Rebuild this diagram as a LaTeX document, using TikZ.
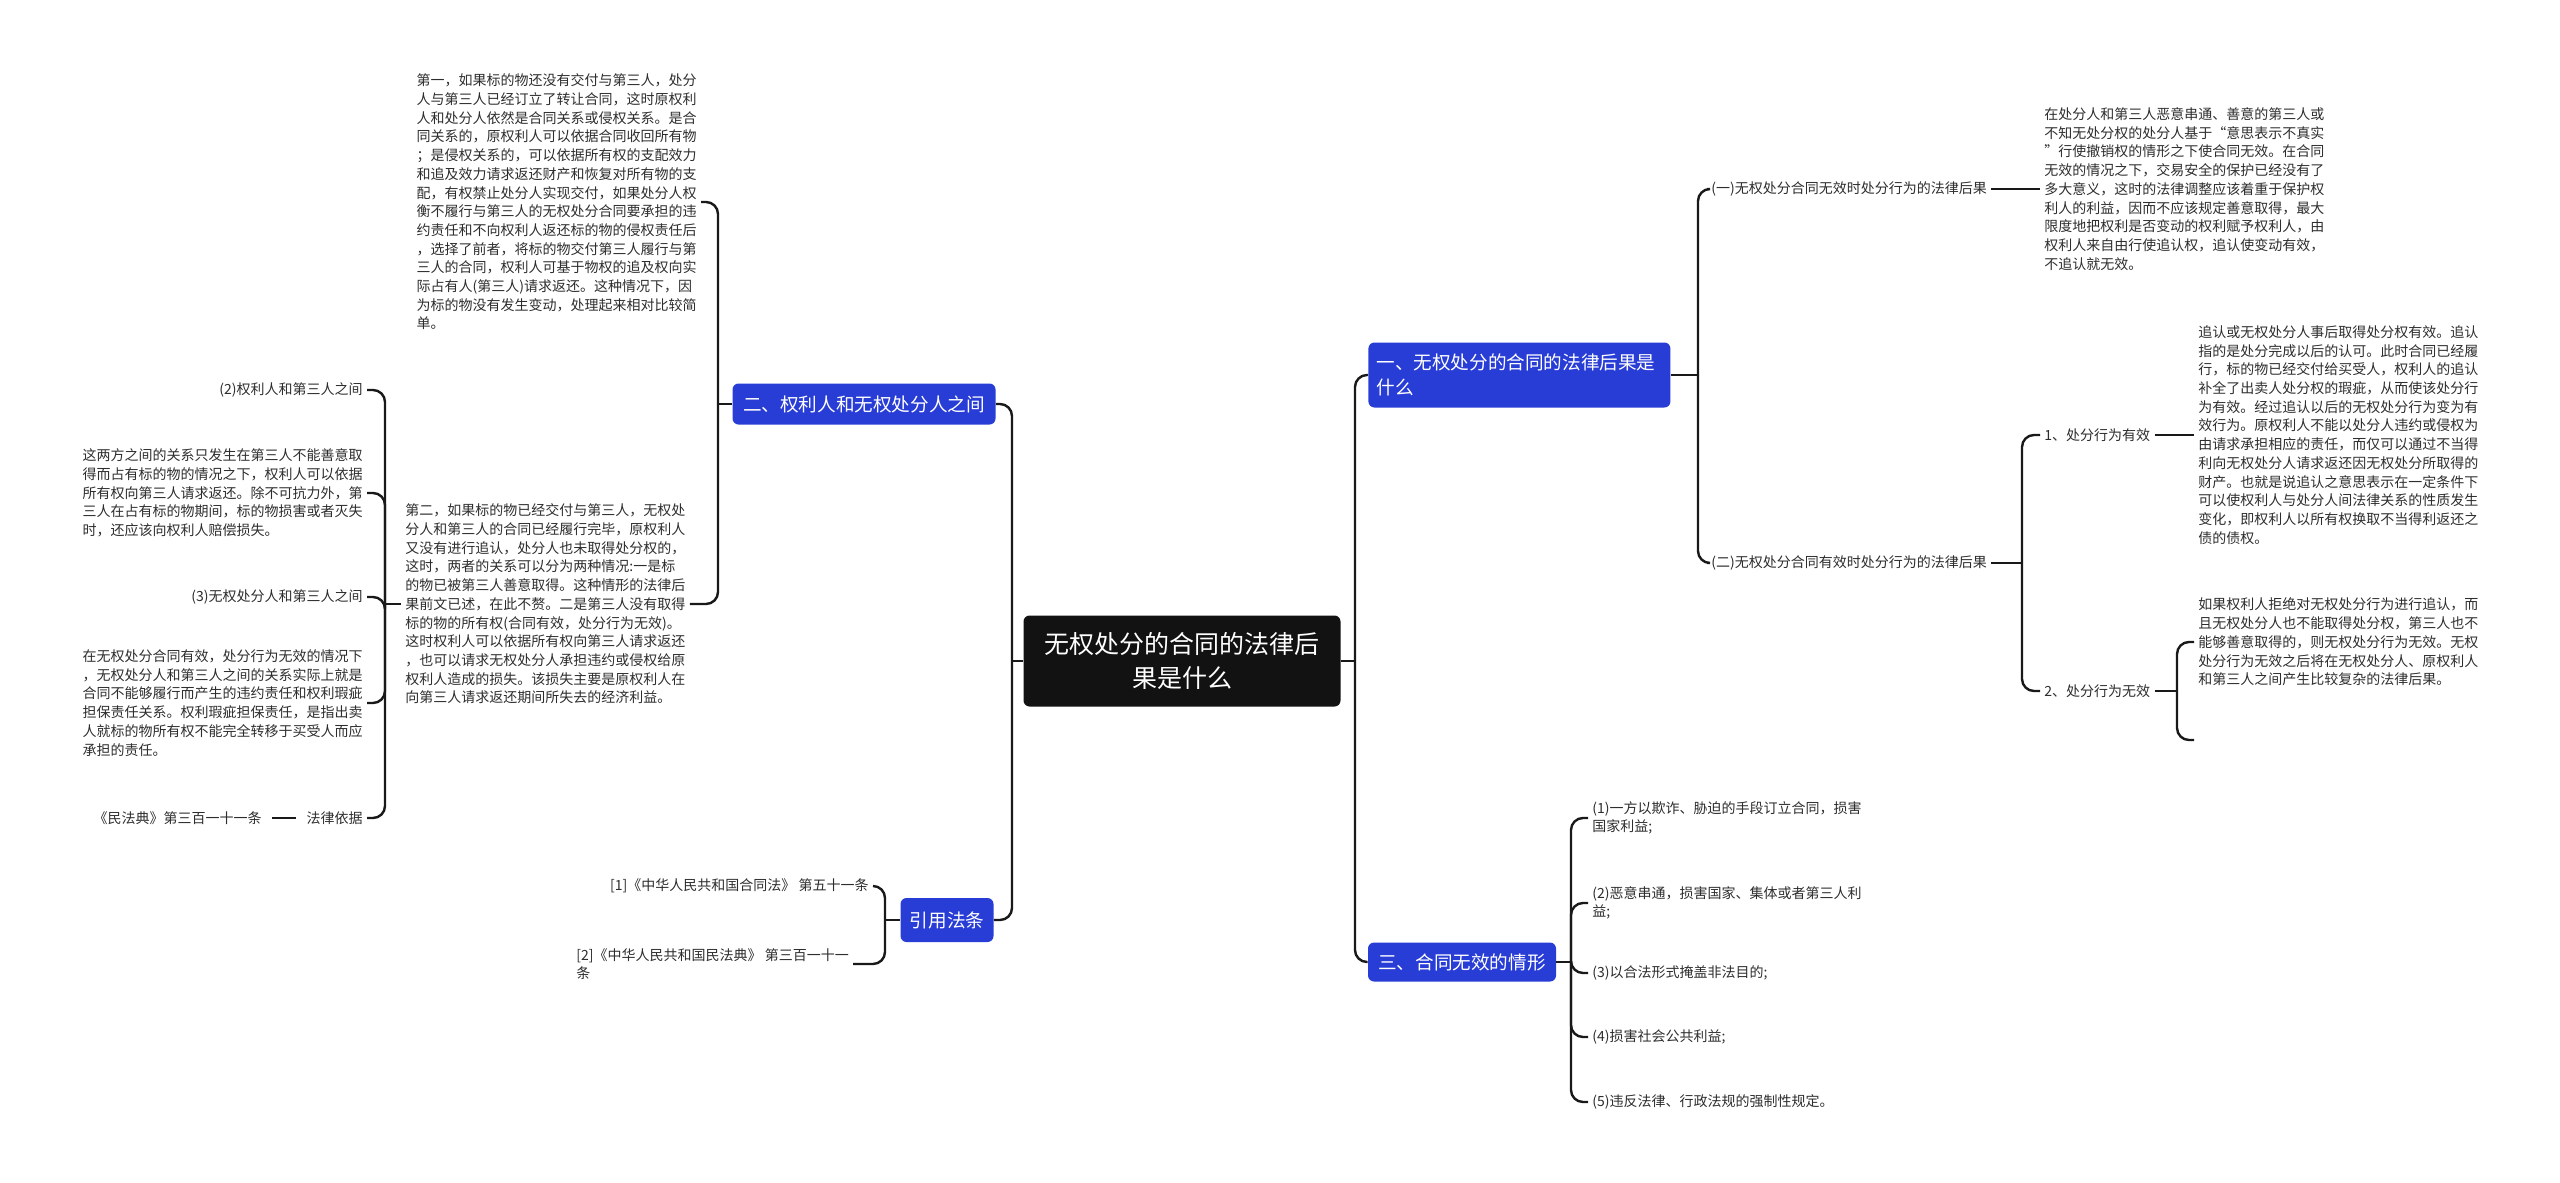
\documentclass[tikz,border=0pt]{standalone}
\usepackage{fontspec}
\setmainfont{Noto Sans CJK SC}
\definecolor{blu}{RGB}{40,60,214}
\definecolor{txt}{RGB}{45,45,45}
\definecolor{ln}{RGB}{25,25,25}
\newcommand{\fsS}{\fontsize{7}{9.35}\selectfont}
\newcommand{\fsB}{\fontsize{9.3}{12.5}\selectfont}
\newcommand{\fsR}{\fontsize{12.5}{17}\selectfont}
\begin{document}
\begin{tikzpicture}[x=0.5pt,y=-0.5pt,
  leaf/.style={inner sep=2pt,align=left,font=\fsS,text=txt},
  box/.style={fill=blu,rounded corners=3pt,text=white,font=\fsB,inner sep=4pt},
  conn/.style={draw=ln,line width=1.2pt,rounded corners=6pt},
  stub/.style={draw=ln,line width=1.2pt}]
\useasboundingbox (0,0) rectangle (2560,1183);
% root
\node[fill=black!93,rounded corners=3pt,text=white,font=\fsR,align=center,minimum width=158.5pt,minimum height=45.5pt] (root) at (1182,661) {无权处分的合同的法律后\\果是什么};
% main boxes
\node[box,anchor=west,text width=143pt,align=left,minimum height=32.5pt] (b1) at (1368,375) {一、无权处分的合同的法律后果是\\什么};
\node[box,minimum width=131.5pt,minimum height=20.5pt] (b2) at (864,404) {二、权利人和无权处分人之间};
\node[box,minimum width=46.5pt,minimum height=22pt] (b4) at (947,920) {引用法条};
\node[box,minimum width=94pt,minimum height=19.5pt] (b3) at (1462,962) {三、合同无效的情形};
% right side
\node[leaf,anchor=west] (r1) at (1707,189) {(一)无权处分合同无效时处分行为的法律后果};
\node[leaf,anchor=west] (r1t) at (2040,189) {在处分人和第三人恶意串通、善意的第三人或\\不知无处分权的处分人基于“意思表示不真实\\”行使撤销权的情形之下使合同无效。在合同\\无效的情况之下，交易安全的保护已经没有了\\多大意义，这时的法律调整应该着重于保护权\\利人的利益，因而不应该规定善意取得，最大\\限度地把权利是否变动的权利赋予权利人，由\\权利人来自由行使追认权，追认使变动有效，\\不追认就无效。};
\node[leaf,anchor=west] (r2) at (1707,563) {(二)无权处分合同有效时处分行为的法律后果};
\node[leaf,anchor=west] (r21) at (2040,435) {1、处分行为有效};
\node[leaf,anchor=west] (r21t) at (2194,435) {追认或无权处分人事后取得处分权有效。追认\\指的是处分完成以后的认可。此时合同已经履\\行，标的物已经交付给买受人，权利人的追认\\补全了出卖人处分权的瑕疵，从而使该处分行\\为有效。经过追认以后的无权处分行为变为有\\效行为。原权利人不能以处分人违约或侵权为\\由请求承担相应的责任，而仅可以通过不当得\\利向无权处分人请求返还因无权处分所取得的\\财产。也就是说追认之意思表示在一定条件下\\可以使权利人与处分人间法律关系的性质发生\\变化，即权利人以所有权换取不当得利返还之\\债的债权。};
\node[leaf,anchor=west] (r22) at (2040,691) {2、处分行为无效};
\node[leaf,anchor=west] (r22t) at (2194,642) {如果权利人拒绝对无权处分行为进行追认，而\\且无权处分人也不能取得处分权，第三人也不\\能够善意取得的，则无权处分行为无效。无权\\处分行为无效之后将在无权处分人、原权利人\\和第三人之间产生比较复杂的法律后果。};
\coordinate (r22e) at (2194,740);
% case list
\node[leaf,anchor=west] (s1) at (1588,818) {(1)一方以欺诈、胁迫的手段订立合同，损害\\国家利益;};
\node[leaf,anchor=west] (s2) at (1588,903) {(2)恶意串通，损害国家、集体或者第三人利\\益;};
\node[leaf,anchor=west] (s3) at (1588,973) {(3)以合法形式掩盖非法目的;};
\node[leaf,anchor=west] (s4) at (1588,1037) {(4)损害社会公共利益;};
\node[leaf,anchor=west] (s5) at (1588,1102) {(5)违反法律、行政法规的强制性规定。};
% left side
\node[leaf,anchor=east] (L1) at (701,202) {第一，如果标的物还没有交付与第三人，处分\\人与第三人已经订立了转让合同，这时原权利\\人和处分人依然是合同关系或侵权关系。是合\\同关系的，原权利人可以依据合同收回所有物\\；是侵权关系的，可以依据所有权的支配效力\\和追及效力请求返还财产和恢复对所有物的支\\配，有权禁止处分人实现交付，如果处分人权\\衡不履行与第三人的无权处分合同要承担的违\\约责任和不向权利人返还标的物的侵权责任后\\，选择了前者，将标的物交付第三人履行与第\\三人的合同，权利人可基于物权的追及权向实\\际占有人(第三人)请求返还。这种情况下，因\\为标的物没有发生变动，处理起来相对比较简\\单。};
\node[leaf,anchor=west] (L2) at (401,604) {第二，如果标的物已经交付与第三人，无权处\\分人和第三人的合同已经履行完毕，原权利人\\又没有进行追认，处分人也未取得处分权的，\\这时，两者的关系可以分为两种情况:一是标\\的物已被第三人善意取得。这种情形的法律后\\果前文已述，在此不赘。二是第三人没有取得\\标的物的所有权(合同有效，处分行为无效)。\\这时权利人可以依据所有权向第三人请求返还\\，也可以请求无权处分人承担违约或侵权给原\\权利人造成的损失。该损失主要是原权利人在\\向第三人请求返还期间所失去的经济利益。};
\node[leaf,anchor=east] (c1) at (367,390) {(2)权利人和第三人之间};
\node[leaf,anchor=east] (c2) at (367,493) {这两方之间的关系只发生在第三人不能善意取\\得而占有标的物的情况之下，权利人可以依据\\所有权向第三人请求返还。除不可抗力外，第\\三人在占有标的物期间，标的物损害或者灭失\\时，还应该向权利人赔偿损失。};
\node[leaf,anchor=east] (c3) at (367,597) {(3)无权处分人和第三人之间};
\node[leaf,anchor=east] (c4) at (367,703) {在无权处分合同有效，处分行为无效的情况下\\，无权处分人和第三人之间的关系实际上就是\\合同不能够履行而产生的违约责任和权利瑕疵\\担保责任关系。权利瑕疵担保责任，是指出卖\\人就标的物所有权不能完全转移于买受人而应\\承担的责任。};
\node[leaf,anchor=east] (c5) at (367,818) {法律依据};
\node[leaf,anchor=east] (c6) at (266,818) {《民法典》第三百一十一条};
% citations
\node[leaf,anchor=east] (q1) at (873,886) {[1]《中华人民共和国合同法》 第五十一条};
\node[leaf,anchor=west] (q2) at (572,964) {[2]《中华人民共和国民法典》 第三百一十一\\条};
% trunk coordinates
\coordinate (tR) at (1355,0);
\coordinate (tL) at (1012,0);
\coordinate (t1) at (1698,0);
\coordinate (t2) at (2022,0);
\coordinate (t22) at (2177,0);
\coordinate (t3) at (1571,0);
\coordinate (tb2) at (718,0);
\coordinate (tL2) at (385,0);
\coordinate (t4) at (885,0);
% connectors right
\draw[stub] (root.east) -- (root.east -| tR);
\draw[conn] (root.east -| tR) |- (b1.west);
\draw[conn] (root.east -| tR) |- (b3.west);
\draw[stub] (b1.east) -- (b1.east -| t1);
\draw[conn] (b1.east -| t1) |- (r1.west);
\draw[conn] (b1.east -| t1) |- (r2.west);
\draw[stub] (r1.east) -- (r1t.west);
\draw[stub] (r2.east) -- (r2.east -| t2);
\draw[conn] (r2.east -| t2) |- (r21.west);
\draw[conn] (r2.east -| t2) |- (r22.west);
\draw[stub] (r21.east) -- (r21t.west);
\draw[stub] (r22.east) -- (r22.east -| t22);
\draw[conn] (r22.east -| t22) |- (r22t.west);
\draw[conn] (r22.east -| t22) |- (r22e);
\draw[stub] (b3.east) -- (b3.east -| t3);
\foreach \s in {s1,s2,s3,s4,s5}{\draw[conn] (b3.east -| t3) |- (\s.west);}
% connectors left
\draw[stub] (root.west) -- (root.west -| tL);
\draw[conn] (root.west -| tL) |- (b2.east);
\draw[conn] (root.west -| tL) |- (b4.east);
\draw[stub] (b2.west) -- (b2.west -| tb2);
\draw[conn] (b2.west -| tb2) |- (L1.east);
\draw[conn] (b2.west -| tb2) |- (L2.east);
\draw[stub] (L2.west) -- (L2.west -| tL2);
\foreach \c in {c1,c2,c3,c4,c5}{\draw[conn] (L2.west -| tL2) |- (\c.east);}
\draw[stub] ([xshift=-3pt]c5.west) -- ([xshift=3pt]c6.east);
\draw[stub] (b4.west) -- (b4.west -| t4);
\draw[conn] (b4.west -| t4) |- (q1.east);
\draw[conn] (b4.west -| t4) |- (q2.east);
\end{tikzpicture}
\end{document}
